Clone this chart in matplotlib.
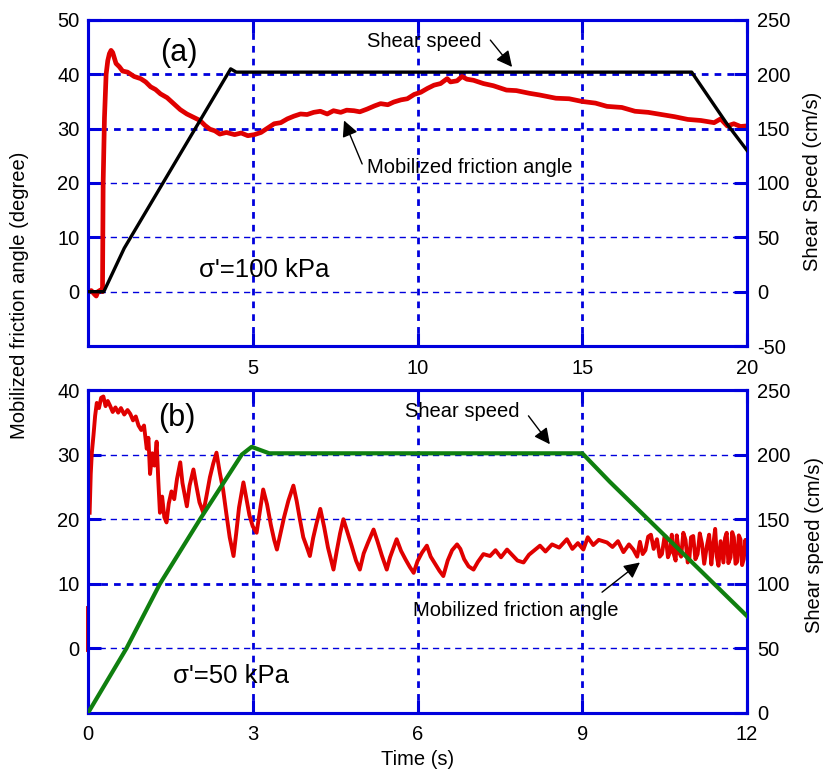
import matplotlib
matplotlib.use('Agg')
import matplotlib.pyplot as plt

plt.rcParams['font.family'] = ['Liberation Sans', 'DejaVu Sans']
plt.rcParams['font.size'] = 14.5
plt.rcParams['axes.unicode_minus'] = False

BLUE = '#0000dd'
RED = '#e00000'
GREEN = '#0f7f0f'

# ---- panel (a): sigma' = 100 kPa ----
a_friction = [
    (0, 0), (0.1, 0.2), (0.2, -0.5), (0.25, -0.8), (0.3, 0), (0.38, 0.3), (0.44, 0),
    (0.46, 20), (0.5, 32), (0.55, 40), (0.6, 42.5), (0.65, 43.8), (0.7, 44.4),
    (0.75, 44), (0.8, 43), (0.85, 42), (0.95, 41.4), (1.05, 40.6), (1.2, 40.4),
    (1.4, 39.6), (1.6, 39.2), (1.75, 38.6), (1.9, 37.7), (2.05, 37.2), (2.2, 36.4),
    (2.4, 35.7), (2.6, 34.6), (2.8, 33.5), (3.0, 32.7), (3.2, 32.1), (3.4, 31.5),
    (3.55, 30.6), (3.7, 29.9), (3.85, 29.6), (4.0, 29.0), (4.2, 29.3), (4.45, 28.9),
    (4.65, 29.2), (4.85, 28.7), (5.05, 28.9), (5.25, 29.3), (5.45, 30.1), (5.65, 30.9),
    (5.85, 31.1), (6.05, 31.8), (6.25, 32.3), (6.45, 32.7), (6.65, 32.6), (6.85, 33.0),
    (7.05, 33.2), (7.26, 32.7), (7.45, 33.3), (7.67, 33.0), (7.85, 33.4), (8.07, 33.3),
    (8.25, 33.1), (8.47, 33.6), (8.7, 34.2), (8.88, 34.6), (9.1, 34.4), (9.28, 34.9),
    (9.5, 35.3), (9.69, 35.5), (9.9, 36.3), (10.1, 36.7), (10.3, 37.4), (10.5, 38.0),
    (10.7, 38.3), (10.9, 39.2), (11.0, 38.6), (11.2, 38.8), (11.35, 39.6), (11.5, 39.1),
    (11.7, 38.9), (12.0, 38.3), (12.3, 37.9), (12.7, 37.1), (13.0, 37.0), (13.4, 36.5),
    (13.7, 36.2), (14.2, 35.6), (14.6, 35.5), (15.0, 35.0), (15.4, 34.7), (15.75, 34.1),
    (16.2, 33.9), (16.6, 33.2), (17.0, 33.0), (17.4, 32.6), (17.8, 32.2), (18.2, 31.7),
    (18.6, 31.5), (19.0, 31.1), (19.2, 31.8), (19.4, 30.5), (19.6, 30.9), (19.8, 30.4),
    (20.0, 30.5),
]
a_speed = [(0, 0), (0.48, 0), (1.1, 40), (4.33, 205), (4.5, 202), (18.32, 202),
           (19.4, 154), (20.0, 130)]

# ---- panel (b): sigma' = 50 kPa ----
b_spike = [(0, -0.3), (0, 6.3)]
b_friction = [
    (0.03, 21), (0.05, 27), (0.07, 30.3), (0.1, 33), (0.13, 36), (0.16, 38), (0.2, 37.2),
    (0.24, 38.8), (0.28, 39), (0.32, 37.5), (0.36, 38.3), (0.4, 37.6), (0.45, 36.6),
    (0.5, 37.3), (0.55, 36.5), (0.6, 37.2), (0.66, 36.2), (0.72, 36.9), (0.77, 36.3),
    (0.82, 35.3), (0.87, 35.9), (0.92, 34.5), (0.97, 33.8), (1.02, 34.5), (1.07, 30.9),
    (1.1, 32.6), (1.13, 27), (1.17, 30.2), (1.21, 28.3), (1.25, 32), (1.28, 26),
    (1.31, 21), (1.35, 23.5), (1.39, 20.3), (1.43, 19.5), (1.47, 22.4), (1.52, 24.3),
    (1.57, 23.1), (1.62, 26.2), (1.68, 28.8), (1.72, 25.6), (1.76, 23.8), (1.8, 22),
    (1.85, 25.2), (1.92, 27.7), (1.97, 25.3), (2.03, 22.6), (2.1, 21), (2.16, 23.7),
    (2.22, 26.5), (2.28, 28.6), (2.34, 30.3), (2.4, 27.2), (2.46, 24.6), (2.52, 20.8),
    (2.58, 17.2), (2.65, 14.3), (2.7, 17.9), (2.75, 21.8), (2.83, 25.7), (2.88, 23.4),
    (2.94, 20.6), (3.0, 18.9), (3.07, 17.9), (3.13, 21.2), (3.19, 24.6), (3.26, 22.3),
    (3.33, 19.1), (3.39, 16.8), (3.44, 15.3), (3.5, 17.6), (3.57, 20.3), (3.65, 22.9),
    (3.74, 25.2), (3.8, 22.8), (3.86, 19.9), (3.92, 17.2), (3.98, 15.8), (4.04, 14.3),
    (4.1, 17.1), (4.16, 19.3), (4.23, 21.6), (4.3, 18.8), (4.37, 15.6), (4.47, 12.2),
    (4.53, 15.1), (4.59, 17.8), (4.65, 20), (4.72, 18.1), (4.8, 15.9), (4.88, 13.6),
    (4.95, 12.2), (5.02, 14.7), (5.1, 16.4), (5.2, 18.4), (5.27, 16.6), (5.35, 14.4),
    (5.44, 12.2), (5.5, 14.1), (5.56, 15.5), (5.62, 16.9), (5.7, 15.1), (5.78, 13.8),
    (5.86, 12.6), (5.93, 11.7), (6.0, 13.5), (6.08, 14.8), (6.17, 15.9), (6.24, 14.2),
    (6.32, 13.1), (6.4, 12.0), (6.47, 11.2), (6.55, 13.6), (6.63, 15.2), (6.72, 16.1),
    (6.78, 15.4), (6.85, 13.8), (6.93, 12.7), (7.02, 12.2), (7.1, 13.4), (7.2, 14.6),
    (7.32, 14.3), (7.42, 15.2), (7.52, 14.1), (7.63, 15.3), (7.72, 14.5), (7.82, 13.6),
    (7.93, 13.3), (8.03, 14.5), (8.13, 15.2), (8.23, 15.9), (8.33, 15.0), (8.45, 16.1),
    (8.58, 15.6), (8.72, 16.9), (8.82, 15.4), (8.92, 16.3), (9.02, 15.3), (9.1, 17.2),
    (9.2, 16.0), (9.3, 16.8), (9.45, 16.4), (9.55, 15.7), (9.65, 16.6), (9.75, 14.9),
    (9.85, 16.1), (9.93, 15.3), (10.0, 14.2), (10.05, 16.5), (10.1, 14.6), (10.15, 15.2),
    (10.2, 17.3), (10.25, 17.6), (10.3, 15.4), (10.36, 16.9), (10.41, 14.2), (10.45, 14.6),
    (10.5, 17.4), (10.52, 17.3), (10.56, 14.1), (10.6, 15.0), (10.63, 17.6), (10.66, 14.8),
    (10.7, 13.6), (10.72, 17.5), (10.76, 14.9), (10.8, 14.2), (10.84, 17.9), (10.88, 16.8),
    (10.92, 13.3), (10.95, 13.9), (10.98, 17.2), (11.02, 17.4), (11.06, 13.8), (11.1, 14.6),
    (11.14, 17.8), (11.18, 16.2), (11.22, 13.1), (11.27, 15.9), (11.31, 17.6), (11.35, 13.0),
    (11.39, 16.4), (11.42, 18.5), (11.45, 14.2), (11.48, 12.8), (11.52, 16.6), (11.57, 13.3),
    (11.6, 17.1), (11.63, 17.9), (11.66, 13.2), (11.7, 14.1), (11.73, 18.0), (11.76, 17.2),
    (11.79, 13.1), (11.82, 13.4), (11.85, 17.5), (11.88, 16.9), (11.91, 12.9), (11.94, 13.8),
    (11.97, 16.8), (12.0, 14.8),
]
b_speed = [(0, 0), (0.7, 50), (1.31, 100), (2.04, 150), (2.8, 200), (2.98, 206),
           (3.3, 201), (9.0, 201), (9.5, 179), (12.0, 75)]

a_xticks = [5, 10, 15, 20]
a_yticks = [0, 10, 20, 30, 40, 50]
a_y2ticks = [-50, 0, 50, 100, 150, 200, 250]
b_xticks = [0, 3, 6, 9, 12]
b_yticks = [0, 10, 20, 30, 40]
b_y2ticks = [0, 50, 100, 150, 200, 250]


def xy(pts):
    return [p[0] for p in pts], [p[1] for p in pts]


def style(ax, ax2, xticks, yticks, y2ticks, bold_h):
    for a in (ax, ax2):
        for s in a.spines.values():
            s.set_color(BLUE)
            s.set_linewidth(2.2)
    ax.set_xticks(xticks)
    ax.set_yticks(yticks)
    ax2.set_yticks(y2ticks)
    ax.tick_params(axis='both', direction='in', length=9.5, width=2.2, color=BLUE,
                   top=True, labelsize=14.5)
    ax.tick_params(axis='x', pad=9)
    ax.tick_params(axis='y', pad=6)
    ax2.tick_params(axis='y', direction='in', length=9.5, width=2.2, color=BLUE,
                    labelsize=14.5, pad=7)
    x0, x1 = ax.get_xlim()
    for x in xticks:
        if x0 < x < x1:
            ax.axvline(x, color=BLUE, lw=2.0, ls=(0, (2.4, 2.2)), zorder=0)
    y0, y1 = ax.get_ylim()
    for y in yticks:
        if y0 < y < y1:
            if y in bold_h:
                ax.axhline(y, color=BLUE, lw=2.0, ls=(0, (2.4, 2.2)), zorder=0)
            else:
                ax.axhline(y, color=BLUE, lw=1.0, ls=(0, (4.5, 3.5)), zorder=0)


fig = plt.figure(figsize=(8.27, 7.8), dpi=100)
arrow = dict(arrowstyle='-|>', color='k', lw=1.0, mutation_scale=24, shrinkA=0, shrinkB=0)

# panel (a)
ax = fig.add_axes([0.1064, 0.5564, 0.7969, 0.418])
ax2 = ax.twinx()
ax.set_xlim(0, 20)
ax.set_ylim(-10, 50)
ax2.set_ylim(-50, 250)
style(ax, ax2, a_xticks, a_yticks, a_y2ticks, bold_h=[30, 40])
tx, vy = xy(a_friction)
ax.plot(tx, vy, color=RED, lw=3.4, zorder=2)
tx, vy = xy(a_speed)
ax2.plot(tx, vy, color='k', lw=2.4, zorder=3)
ax.text(2.2, 44, '(a)', fontsize=22, va='center')
ax.text(3.36, 3.9, "σ'=100 kPa", fontsize=18.5, va='center')
ax.text(8.47, 46, 'Shear speed', fontsize=14.5, va='center')
ax.annotate('', xy=(12.87, 41.35), xytext=(12.21, 46.3), arrowprops=arrow)
ax.text(8.47, 22.8, 'Mobilized friction angle', fontsize=14.5, va='center')
ax.annotate('', xy=(7.77, 31.5), xytext=(8.32, 23.5), arrowprops=arrow)

# panel (b)
bx = fig.add_axes([0.1064, 0.0859, 0.7969, 0.4141])
bx2 = bx.twinx()
bx.set_xlim(0, 12)
bx.set_ylim(-10, 40)
bx2.set_ylim(0, 250)
style(bx, bx2, b_xticks, b_yticks, b_y2ticks, bold_h=[10])
tx, vy = xy(b_spike)
bx.plot(tx, vy, color=RED, lw=2.8, zorder=2, clip_on=False)
tx, vy = xy(b_friction)
bx.plot(tx, vy, color=RED, lw=2.8, zorder=2)
tx, vy = xy(b_speed)
bx2.plot(tx, vy, color=GREEN, lw=3.0, zorder=3)
bx.text(1.28, 35.7, '(b)', fontsize=22, va='center')
bx.text(1.55, -4.3, "σ'=50 kPa", fontsize=18.5, va='center')
bx.text(5.77, 36.6, 'Shear speed', fontsize=14.5, va='center')
bx.annotate('', xy=(8.41, 31.6), xytext=(8.02, 36.0), arrowprops=arrow)
bx.text(5.92, 5.8, 'Mobilized friction angle', fontsize=14.5, va='center')
bx.annotate('', xy=(10.05, 13.3), xytext=(9.36, 8.7), arrowprops=arrow)
bx.set_xlabel('Time (s)', fontsize=14.5, labelpad=4)

fig.text(0.024, 0.622, 'Mobilized friction angle (degree)', rotation=90,
         ha='center', va='center', fontsize=14.5)
fig.text(0.982, 0.767, 'Shear Speed (cm/s)', rotation=90,
         ha='center', va='center', fontsize=14.5)
fig.text(0.985, 0.301, 'Shear speed (cm/s)', rotation=90,
         ha='center', va='center', fontsize=14.5)

fig.savefig('out.png', dpi=100)
